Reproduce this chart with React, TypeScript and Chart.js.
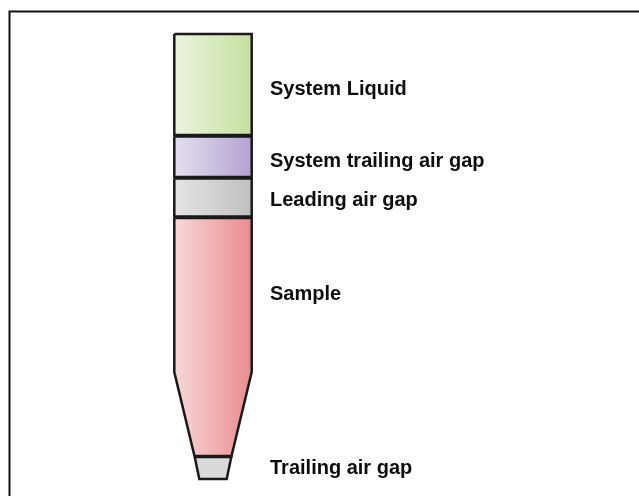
import React, { useEffect, useRef } from "react";
import { Chart, registerables } from "chart.js";

Chart.register(...registerables);

// Segments of the tip contents, from top (system side) to bottom (tip end)
const segmentNames = [
  "System Liquid",
  "System trailing air gap",
  "Leading air gap",
  "Sample",
  "Trailing air gap",
];
const segmentTop = [0, 102.5, 144.5, 184, 423];
const segmentBottom = [101, 143, 182.5, 422, 445];
const segmentLeftColor = ["#ebf4df", "#e4dfef", "#e4e4e4", "#f8d8da", "#dadada"];
const segmentRightColor = ["#c6df9f", "#b3a3d0", "#c0c0c0", "#e98c8e", "#dadada"];

// Tube profile: position along the tube and its half width there
const profilePos = [0, 338, 422, 445];
const profileHalfWidth = [38.7, 38.7, 18.5, 13.7];

// Label positions (along tube, text baseline)
const labelPos = [61, 132.5, 172, 266, 440];
const labelOffset = 57;

function halfWidthAt(p: number): number {
  for (let i = 0; i < profilePos.length - 1; i++) {
    const a = profilePos[i];
    const b = profilePos[i + 1];
    if (p >= a && p <= b) {
      const t = (p - a) / (b - a);
      return profileHalfWidth[i] + t * (profileHalfWidth[i + 1] - profileHalfWidth[i]);
    }
  }
  return profileHalfWidth[profileHalfWidth.length - 1];
}

function segmentPolygon(top: number, bottom: number) {
  const ys = [top, ...profilePos.filter((p) => p > top && p < bottom), bottom];
  const left = ys.map((y) => ({ x: -halfWidthAt(y), y }));
  const right = ys
    .slice()
    .reverse()
    .map((y) => ({ x: halfWidthAt(y), y }));
  const pts = [...left, ...right];
  pts.push({ ...pts[0] });
  return pts;
}

export default function App() {
  const canvasRef = useRef<HTMLCanvasElement | null>(null);

  useEffect(() => {
    document.body.style.margin = "0";
    const canvas = canvasRef.current;
    if (!canvas) return;

    const datasets = segmentNames.map((name, i) => ({
      label: name,
      data: segmentPolygon(segmentTop[i], segmentBottom[i]),
      showLine: true,
      fill: "shape" as any,
      tension: 0,
      pointRadius: 0,
      pointHoverRadius: 0,
      borderColor: "#1a1a1a",
      borderWidth: 2.5,
      borderJoinStyle: "miter" as const,
      backgroundColor: (ctx: any) => {
        const chart = ctx.chart;
        const { chartArea, scales } = chart;
        if (!chartArea) return segmentLeftColor[i];
        const hw = profileHalfWidth[0];
        const x0 = scales.x.getPixelForValue(-hw);
        const x1 = scales.x.getPixelForValue(hw);
        const g = chart.ctx.createLinearGradient(x0, 0, x1, 0);
        g.addColorStop(0, segmentLeftColor[i]);
        g.addColorStop(1, segmentRightColor[i]);
        return g;
      },
    }));

    const framePlugin = {
      id: "frame",
      beforeDraw(chart: any) {
        const c = chart.ctx;
        c.save();
        c.fillStyle = "#ffffff";
        c.fillRect(0, 0, chart.width, chart.height);
        c.strokeStyle = "#111111";
        c.lineWidth = 2;
        c.beginPath();
        c.moveTo(9.5, chart.height);
        c.lineTo(9.5, 11.5);
        c.lineTo(chart.width, 11.5);
        c.stroke();
        c.restore();
      },
    };

    const labelPlugin = {
      id: "segmentLabels",
      afterDatasetsDraw(chart: any) {
        const c = chart.ctx;
        const { x, y } = chart.scales;
        c.save();
        c.fillStyle = "#0d0d0d";
        c.font = "bold 20px 'Liberation Sans', Arial, sans-serif";
        c.textBaseline = "alphabetic";
        c.textAlign = "left";
        segmentNames.forEach((name, i) => {
          c.fillText(name, x.getPixelForValue(labelOffset), y.getPixelForValue(labelPos[i]));
        });
        c.restore();
      },
    };

    const chart = new Chart(canvas, {
      type: "scatter",
      data: { datasets: datasets as any },
      options: {
        animation: false,
        responsive: false,
        maintainAspectRatio: false,
        layout: { padding: 0 },
        plugins: {
          legend: { display: false },
          tooltip: { enabled: false },
          title: { display: false },
        },
        scales: {
          x: { type: "linear", min: -213, max: 426, display: false },
          y: { type: "linear", min: -34, max: 462, reverse: true, display: false },
        },
      },
      plugins: [framePlugin, labelPlugin],
    });

    return () => chart.destroy();
  }, []);

  return (
    <div style={{ width: 639, height: 496 }}>
      <canvas ref={canvasRef} width={639} height={496} />
    </div>
  );
}
